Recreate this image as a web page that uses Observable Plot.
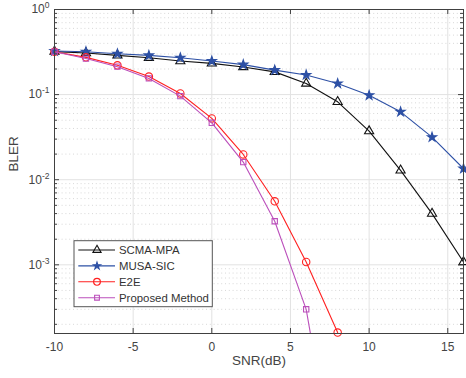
<!DOCTYPE html>
<html><head><meta charset="utf-8">
<script src="https://cdn.jsdelivr.net/npm/d3@7"></script>
<script src="https://cdn.jsdelivr.net/npm/@observablehq/plot@0.6"></script>
<style>
body{margin:0;background:#fff;}
#chart{width:466px;height:378px;}
</style>
</head><body><div id="chart"></div>
<script>
// ---- data ----
const snr = [-10,-8,-6,-4,-2,0,2,4,6,8,10,12,14,16];
const scmaMpa = [0.32,0.308,0.289,0.271,0.248,0.233,0.211,0.185,0.135,0.0823,0.0372,0.0129,0.0040,0.00108];
const musaSic = [0.325,0.319,0.302,0.289,0.271,0.248,0.225,0.194,0.170,0.135,0.098,0.0628,0.0316,0.0135];
const e2e = [0.319,0.274,0.221,0.163,0.103,0.0525,0.0198,0.00558,0.00108,0.00016];
const proposed = [0.319,0.265,0.213,0.155,0.096,0.0466,0.0161,0.00325,0.00030,0.0000023];
const seriesNames = ["SCMA-MPA","MUSA-SIC","E2E","Proposed Method"];
const xTicks = [-10,-5,0,5,10,15];
const yTicks = [1e-3,1e-2,1e-1,1];

// ---- layout / style ----
const W = 466, H = 378, mL = 54, mR = 3, mT = 9, mB = 45;
const innerW = W - mL - mR, innerH = H - mT - mB;
const yMin = 1.56e-4;
const font = "Liberation Sans, Arial, sans-serif";
const axisColor = "#404040", textColor = "#444";

const styles = [
  {stroke:"#111111", fill:"none", symbol:"triangle", r:3.4, sw:1.1, ls:0.8},
  {stroke:"#2d50a5", fill:"#2d50a5", symbol:"star", r:2.9, sw:1.1, ls:0.6},
  {stroke:"#ff2020", fill:"none", symbol:"circle", r:3.7, sw:1.1, ls:0.85},
  {stroke:"#bb4fbb", fill:"none", symbol:"square", r:3.0, sw:1.1, ls:0.8}
];
const values = [scmaMpa, musaSic, e2e, proposed];
const series = seriesNames.map((name, k) => ({
  name, ...styles[k],
  rows: values[k].map((v, i) => ({x: snr[i], y: v}))
}));

// minor y ticks
const minor = [];
for (let d = -4; d < 0; d++) for (let m = 2; m <= 9; m++) {
  const v = m * Math.pow(10, d);
  if (v >= yMin && v < 1) minor.push(v);
}

const marks = [
  Plot.ruleY(minor, {y: d => d, stroke: "#d4d4d4", strokeDasharray: "1,2.8", strokeWidth: 0.9}),
  Plot.ruleY(yTicks, {y: d => d, stroke: "#e2e2e2", strokeWidth: 1}),
  Plot.ruleX(xTicks, {x: d => d, stroke: "#e2e2e2", strokeWidth: 1}),
];
for (const s of series) {
  marks.push(Plot.line(s.rows, {x: "x", y: "y", stroke: s.stroke, strokeWidth: s.sw, clip: true}));
  marks.push(Plot.dot(s.rows.filter(d => d.y >= yMin * 0.98), {x: "x", y: "y", symbol: s.symbol, r: s.r, stroke: s.stroke, fill: s.fill, strokeWidth: 1.1}));
}
// inward ticks (box)
marks.push(
  Plot.tickY(yTicks, {y: d => d, insetRight: innerW - 5, stroke: axisColor}),
  Plot.tickY(yTicks, {y: d => d, insetLeft: innerW - 5, stroke: axisColor}),
  Plot.tickY(minor, {y: d => d, insetRight: innerW - 3, stroke: axisColor}),
  Plot.tickY(minor, {y: d => d, insetLeft: innerW - 3, stroke: axisColor}),
  Plot.tickX(xTicks, {x: d => d, insetTop: innerH - 5, stroke: axisColor}),
  Plot.tickX(xTicks, {x: d => d, insetBottom: innerH - 5, stroke: axisColor}),
  Plot.frame({stroke: axisColor, strokeWidth: 1}),
  Plot.axisX(xTicks, {tickSize: 0, tickPadding: 9, fontSize: 12, color: textColor, tickFormat: d => String(d), label: null}),
  Plot.axisY(yTicks, {tickSize: 0, tickPadding: 5, fontSize: 12, color: textColor, tickFormat: d => "10^" + Math.round(Math.log10(d)), label: null}),
  Plot.text(["SNR(dB)"], {frameAnchor: "bottom", dy: 31, fontSize: 13.5, fill: textColor}),
  Plot.text(["BLER"], {frameAnchor: "left", dx: -40.5, rotate: -90, fontSize: 13.5, fill: textColor})
);

const svg = Plot.plot({
  width: W, height: H,
  marginLeft: mL, marginRight: mR, marginTop: mT, marginBottom: mB,
  style: {fontFamily: font, background: "#fff", overflow: "visible"},
  x: {domain: [-10, 16]},
  y: {type: "log", domain: [yMin, 1]},
  marks
});

// superscript exponents on y tick labels
svg.querySelectorAll("text").forEach(t => {
  const m = /^10\^(-?\d+)$/.exec(t.textContent);
  if (!m) return;
  t.textContent = "10";
  const sup = document.createElementNS("http://www.w3.org/2000/svg", "tspan");
  sup.setAttribute("dy", "-5");
  sup.setAttribute("font-size", "8.5");
  sup.textContent = m[1];
  t.appendChild(sup);
});

// legend
const g = d3.select(svg).append("g").attr("font-family", font).attr("font-size", 11.4).attr("text-anchor", "start");
const lx = 74, ly = 240.7, lw = 138.3, lh = 66;
g.append("rect").attr("x", lx).attr("y", ly).attr("width", lw).attr("height", lh)
  .attr("fill", "#fff").attr("stroke", "#555").attr("stroke-width", 1);
const symMap = {triangle: d3.symbolTriangle, star: d3.symbolStar, circle: d3.symbolCircle, square: d3.symbolSquare};
series.forEach((s, i) => {
  const y = 250 + i * 15.9;
  g.append("line").attr("x1", 78.3).attr("x2", 115).attr("y1", y).attr("y2", y)
    .attr("stroke", s.stroke).attr("stroke-width", s.sw);
  g.append("path").attr("d", d3.symbol(symMap[s.symbol], Math.PI * s.r * s.r * s.ls)())
    .attr("transform", `translate(97,${y})`).attr("stroke", s.stroke).attr("fill", s.fill).attr("stroke-width", 1.1);
  g.append("text").attr("x", 119).attr("y", y).attr("dy", "0.35em").attr("fill", "#333").text(s.name);
});

document.getElementById("chart").appendChild(svg);
</script>
</body></html>
